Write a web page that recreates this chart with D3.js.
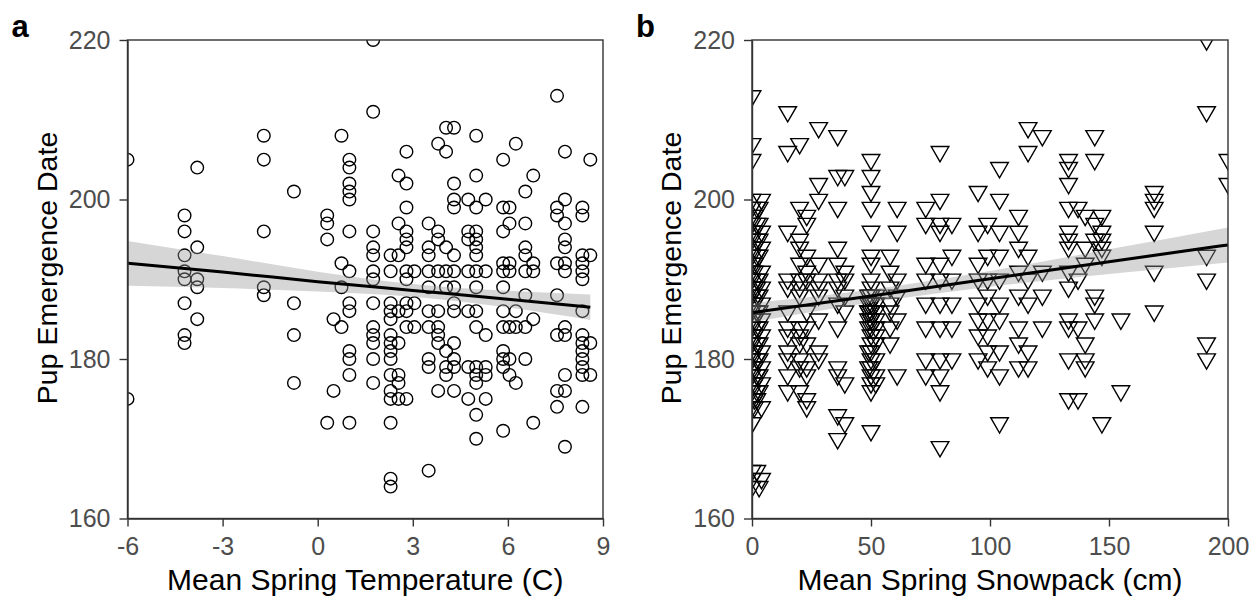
<!DOCTYPE html>
<html><head><meta charset="utf-8">
<script src="https://cdn.jsdelivr.net/npm/d3@7"></script>
<style>body{margin:0;background:#fff}svg{display:block}</style>
</head><body>
<svg id="chart" width="1255" height="597"></svg>
<script>
// ---------- DATA ----------
// Panel a: mean spring temperature (C) per year, and pup emergence dates at that temperature
const tempX = [-6.0, -4.2, -3.8, -1.7, -0.75, 0.3, 0.5, 0.75, 1.0, 1.75, 2.3, 2.55, 2.8, 3.05, 3.5, 3.8, 4.05, 4.3, 4.75, 5.0, 5.3, 5.85, 6.05, 6.25, 6.55, 6.8, 7.55, 7.8, 8.35, 8.6];
const emergenceByTemp = [
  [205, 175],
  [198, 196, 193, 191, 190, 187, 183, 182],
  [204, 194, 190, 189, 185],
  [208, 205, 196, 189, 188],
  [201, 187, 183, 177],
  [198, 197, 195, 172],
  [185, 176],
  [208, 192, 189, 184],
  [205, 204, 202, 201, 200, 196, 191, 187, 186, 181, 180, 178, 172],
  [220, 211, 196, 194, 193, 191, 190, 187, 184, 183, 182, 180, 177],
  [193, 191, 187, 186, 185, 183, 182, 181, 180, 178, 176, 175, 172, 165, 164],
  [203, 197, 193, 186, 182, 178, 177, 175],
  [206, 202, 199, 196, 195, 194, 191, 190, 187, 186, 184, 175],
  [191, 187, 184],
  [197, 194, 193, 191, 189, 186, 184, 180, 179, 166],
  [207, 196, 195, 191, 186, 184, 183, 182, 176],
  [209, 206, 194, 191, 189, 181, 179, 178],
  [209, 202, 200, 199, 193, 191, 189, 187, 186, 182, 180, 179, 176],
  [200, 196, 195, 191, 186, 179, 175],
  [208, 203, 199, 196, 195, 194, 193, 191, 189, 186, 184, 179, 178, 177, 173, 170],
  [200, 191, 183, 179, 178, 175],
  [205, 199, 196, 192, 191, 189, 186, 184, 181, 180, 179, 171],
  [199, 197, 192, 191, 184, 180, 178],
  [207, 186, 184, 177],
  [201, 197, 194, 193, 191, 188, 184, 180],
  [203, 192, 191, 185, 172],
  [213, 199, 198, 192, 188, 183, 176, 174],
  [206, 200, 197, 195, 194, 192, 191, 184, 183, 178, 176, 169],
  [199, 198, 193, 192, 191, 190, 186, 183, 182, 181, 180, 179, 178, 174],
  [205, 193, 182, 178]
];
// Linear fit and 95% band, panel a
const fitTempX  = [-6, -3, 0, 3, 6, 8.6];
const fitTempY  = [192.0, 190.9, 189.7, 188.6, 187.5, 186.5];
const fitTempLo = [189.2, 188.9, 188.45, 187.8, 186.45, 184.9];
const fitTempHi = [194.8, 192.9, 190.95, 189.4, 188.55, 188.1];

// Panel b: mean spring snowpack (cm) per year, and pup emergence dates at that snowpack
const snowX = [0, 1, 2, 3, 4, 15, 20, 23, 28, 36, 39, 49, 50, 52, 58, 61, 73, 79, 84, 95, 99, 104, 112, 116, 122, 133, 137, 140, 144, 147, 155, 169, 191, 200];
const emergenceBySnow = [
  [213, 207, 205, 200, 199, 198, 197, 196, 195, 194, 193, 192, 191, 190, 189, 188, 187, 186, 185, 184, 183, 182, 181, 180, 179, 178, 177, 176, 175, 174, 172, 166, 165, 164],
  [198, 196, 194, 192, 191, 189, 187, 185, 183, 181, 179, 177, 175, 174],
  [199, 197, 195, 193, 190, 189, 188, 186, 184, 182, 180, 178, 176, 175, 166],
  [199, 197, 195, 193, 190, 188, 186, 184, 182, 180, 178, 176, 164],
  [200, 196, 194, 191, 189, 187, 185, 183, 181, 179, 177, 174, 165],
  [211, 206, 196, 190, 189, 186, 184, 183, 181, 180, 178, 176],
  [207, 199, 195, 194, 192, 190, 189, 188, 184, 183, 182, 180, 179, 176],
  [198, 197, 193, 191, 190, 186, 184, 182, 179, 178, 175, 174],
  [209, 202, 200, 192, 190, 189, 188, 185, 181, 180],
  [208, 203, 199, 194, 192, 190, 189, 187, 184, 179, 178, 173, 170],
  [203, 191, 190, 188, 186, 177, 172],
  [188, 187, 186, 186, 185, 184, 181, 179],
  [205, 203, 201, 199, 196, 193, 192, 190, 189, 188, 187, 187, 186, 186, 185, 185, 184, 183, 182, 181, 180, 179, 178, 177, 176, 171],
  [188, 187, 186, 185, 184, 183, 182, 180, 178, 177],
  [193, 191, 189, 187, 186, 184, 182],
  [199, 196, 190, 188, 185, 178],
  [199, 197, 192, 190, 187, 184, 180, 178],
  [206, 200, 197, 196, 192, 190, 187, 184, 180, 178, 176, 169],
  [197, 193, 190, 187, 184, 180],
  [201, 196, 192, 190, 187, 185, 183, 180],
  [197, 193, 190, 188, 185, 183, 181, 179],
  [204, 200, 196, 193, 190, 187, 185, 181, 178, 172],
  [198, 196, 194, 191, 188, 184, 182, 179],
  [209, 206, 193, 190, 187, 181, 179],
  [208, 191, 188, 184],
  [205, 204, 202, 199, 196, 195, 194, 191, 189, 185, 184, 180, 175],
  [199, 190, 184, 175],
  [198, 194, 192, 182, 180, 179],
  [208, 205, 197, 195, 188, 187, 185],
  [198, 196, 195, 194, 193, 172],
  [185, 176],
  [201, 200, 199, 196, 191, 186],
  [220, 211, 193, 190, 182, 180],
  [205, 202]
];
// Linear fit and 95% band, panel b
const fitSnowX  = [0, 50, 100, 150, 200];
const fitSnowY  = [185.8, 187.9, 190.05, 192.2, 194.3];
const fitSnowLo = [184.6, 187.07, 189.05, 190.65, 192.1];
const fitSnowHi = [187.0, 188.73, 191.05, 193.75, 196.5];

const yTicks = [160, 180, 200, 220];
const tempTicks = [-6, -3, 0, 3, 6, 9];
const snowTicks = [0, 50, 100, 150, 200];

// ---------- DRAW ----------
const svg = d3.select("#chart");
const FONT = "'Liberation Sans', Arial, sans-serif";
const plotTop = 40, plotBottom = 518.5;

function panel(opts) {
  const {left, right, xDomain, xTicks, xs, ys, fx, fy, flo, fhi, xTitle, letter, shape, id} = opts;
  const x = d3.scaleLinear().domain(xDomain).range([left, right]);
  const y = d3.scaleLinear().domain([160, 220]).range([plotBottom, plotTop]);
  const g = svg.append("g");

  g.append("clipPath").attr("id", "clip" + id)
    .append("rect").attr("x", left).attr("y", plotTop).attr("width", right - left).attr("height", plotBottom - plotTop);

  const pts = [];
  xs.forEach((xv, i) => ys[i].forEach(yv => pts.push([xv, yv])));
  const plot = g.append("g").attr("clip-path", `url(#clip${id})`);

  if (shape === "circle") {
    plot.selectAll("circle").data(pts).join("circle")
      .attr("cx", d => x(d[0])).attr("cy", d => y(d[1])).attr("r", 6.3)
      .attr("fill", "none").attr("stroke", "#000").attr("stroke-width", 1.4);
  } else {
    const tri = d3.symbol().type(d3.symbolTriangle).size(135);
    plot.selectAll("path.pt").data(pts).join("path").attr("class", "pt")
      .attr("d", tri)
      .attr("transform", d => `translate(${x(d[0])},${y(d[1])}) rotate(180)`)
      .attr("fill", "none").attr("stroke", "#000").attr("stroke-width", 1.4);
  }

  const band = fx.map((v, i) => ({x: v, y: fy[i], lo: flo[i], hi: fhi[i]}));
  plot.append("path").datum(band)
    .attr("d", d3.area().x(d => x(d.x)).y0(d => y(d.lo)).y1(d => y(d.hi)).curve(d3.curveMonotoneX))
    .attr("fill", "#999999").attr("fill-opacity", 0.4);
  plot.append("path").datum(band)
    .attr("d", d3.line().x(d => x(d.x)).y(d => y(d.y)).curve(d3.curveMonotoneX))
    .attr("fill", "none").attr("stroke", "#000").attr("stroke-width", 3);

  g.append("rect").attr("x", left).attr("y", plotTop).attr("width", right - left).attr("height", plotBottom - plotTop)
    .attr("fill", "none").attr("stroke", "#333").attr("stroke-width", 1.4);

  const fmt = d => String(d);
  const ax = g.append("g").attr("transform", `translate(0,${plotBottom})`)
    .call(d3.axisBottom(x).tickValues(xTicks).tickFormat(fmt).tickSize(8).tickSizeOuter(0).tickPadding(11));
  const ay = g.append("g").attr("transform", `translate(${left},0)`)
    .call(d3.axisLeft(y).tickValues(yTicks).tickFormat(fmt).tickSize(8).tickSizeOuter(0).tickPadding(9));
  [ax, ay].forEach(a => {
    a.select(".domain").attr("stroke", "#333").attr("stroke-width", 1.4);
    a.selectAll(".tick line").attr("stroke", "#333").attr("stroke-width", 1.4);
    a.selectAll(".tick text").attr("fill", "#4d4d4d").style("font-family", FONT).style("font-size", "25px");
  });

  g.append("text").attr("x", (left + right) / 2).attr("y", 590)
    .attr("text-anchor", "middle").style("font-family", FONT).style("font-size", "30px").attr("fill", "#000")
    .text(xTitle);
  g.append("text").attr("transform", `translate(${left - 71},268) rotate(-90)`)
    .attr("text-anchor", "middle").style("font-family", FONT).style("font-size", "28.5px").attr("fill", "#000")
    .text("Pup Emergence Date");
  g.append("text").attr("x", left - 116).attr("y", 37)
    .style("font-family", FONT).style("font-size", "31px").style("font-weight", "bold").attr("fill", "#000")
    .text(letter);
}

panel({left: 127.5, right: 603, xDomain: [-6, 9], xTicks: tempTicks, xs: tempX, ys: emergenceByTemp,
  fx: fitTempX, fy: fitTempY, flo: fitTempLo, fhi: fitTempHi,
  xTitle: "Mean Spring Temperature (C)", letter: "a", shape: "circle", id: "a"});
panel({left: 752, right: 1228, xDomain: [0, 200], xTicks: snowTicks, xs: snowX, ys: emergenceBySnow,
  fx: fitSnowX, fy: fitSnowY, flo: fitSnowLo, fhi: fitSnowHi,
  xTitle: "Mean Spring Snowpack (cm)", letter: "b", shape: "triangle", id: "b"});
</script>
</body></html>
